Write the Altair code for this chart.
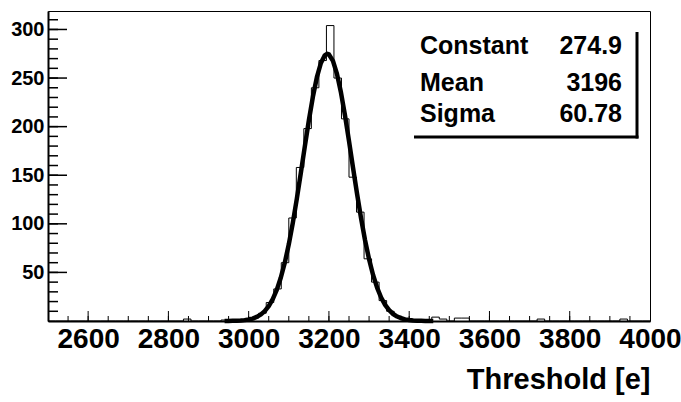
import altair as alt
import pandas as pd

# ---------------- data ----------------
# histogram: 80 bins between 2500 and 4000, only the non-empty bins are listed
hist_lo, hist_hi, hist_nbins = 2500, 4000, 80
hist_bin_index = [18, 23, 24, 25, 26, 27, 28, 29, 30, 31, 32, 33, 34, 35, 36, 37,
                  38, 39, 40, 41, 42, 43, 44, 45, 46, 47, 48, 49, 50, 51, 52, 54, 55, 65, 76]
hist_counts = [2, 1, 1, 1, 2, 3, 8, 19, 33, 60, 106, 158, 198, 240, 268, 304,
               250, 208, 148, 112, 64, 40, 21, 10, 5, 2, 1, 1, 1, 4, 2, 3, 3, 2, 2]

# gaussian fit curve
fit_x = [2940, 2950, 2960, 2970, 2980, 2990, 3000, 3010, 3020, 3030, 3040, 3050, 3060,
         3070, 3080, 3090, 3100, 3110, 3120, 3130, 3140, 3150, 3160, 3170, 3180, 3190,
         3196, 3200, 3210, 3220, 3230, 3240, 3250, 3260, 3270, 3280, 3290, 3300, 3310,
         3320, 3330, 3340, 3350, 3360, 3370, 3380, 3390, 3400, 3410, 3420, 3430, 3440,
         3450, 3460]
fit_y = [0.04, 0.08, 0.15, 0.27, 0.5, 0.9, 1.5, 2.5, 4.2, 6.6, 10.2, 15.4, 22.5,
         32.0, 44.5, 60.0, 78.9, 101.0, 125.8, 152.4, 179.8, 206.4, 230.7, 250.9, 265.5, 273.6,
         274.9, 274.3, 267.7, 254.3, 235.1, 211.5, 185.2, 157.9, 131.0, 105.9, 83.1, 63.6, 47.4,
         34.3, 24.2, 16.6, 11.1, 7.2, 4.6, 2.8, 1.7, 1.0, 0.56, 0.31, 0.17, 0.09,
         0.05, 0.03]

stats_names = ["Constant", "Mean", "Sigma"]
stats_values = ["274.9", "3196", "60.78"]

x_label_values = [2600, 2800, 3000, 3200, 3400, 3600, 3800, 4000]
y_label_values = [50, 100, 150, 200, 250, 300]
x_minor_ticks = [v for v in range(2550, 4000, 50)]
x_major_ticks = [2600, 2800, 3000, 3200, 3400, 3600, 3800]
y_minor_ticks = [v for v in range(10, 320, 10)]
y_major_ticks = [50, 100, 150, 200, 250, 300]

x_domain = [2500, 4000]
y_domain = [0, 319]
x_title = "Threshold [e]"

# ---------------- layout ----------------
W, H = 602, 310
FONT = "Liberation Sans, Arial, Helvetica, sans-serif"

# build step table
width_bin = (hist_hi - hist_lo) / hist_nbins
counts = [0] * hist_nbins
for i, c in zip(hist_bin_index, hist_counts):
    counts[i] = c
step_rows = [{"x": hist_lo + k * width_bin, "n": counts[k]} for k in range(hist_nbins)]
step_rows.append({"x": hist_hi, "n": counts[-1]})
hist_df = pd.DataFrame(step_rows)
fit_df = pd.DataFrame({"x": fit_x, "y": fit_y})

xs = alt.Scale(domain=x_domain, nice=False, zero=False)
ys = alt.Scale(domain=y_domain, nice=False, zero=True)

x_axis = alt.Axis(values=x_label_values, format="d", ticks=False, grid=False,
                  domainWidth=2, domainColor="black", labelFont=FONT, labelFontSize=28,
                  labelFontWeight="bold", labelColor="black", labelFlush=False,
                  labelOverlap=False, labelBound=False, labelPadding=4,
                  title=x_title, titleFont=FONT, titleFontSize=29, titleFontWeight="bold",
                  titleColor="black", titleAnchor="end", titleAlign="right", titlePadding=12)
y_axis = alt.Axis(values=y_label_values, format="d", ticks=False, grid=False,
                  domainWidth=2, domainColor="black", labelFont=FONT, labelFontSize=20,
                  labelFontWeight="bold", labelColor="black", labelFlush=False,
                  labelOverlap=False, labelPadding=4, title=None)

hist = alt.Chart(hist_df).mark_line(interpolate="step-after", color="black",
                                    strokeWidth=1).encode(
    x=alt.X("x:Q", scale=xs, axis=x_axis),
    y=alt.Y("n:Q", scale=ys, axis=y_axis),
)

fit = alt.Chart(fit_df).mark_line(color="black", strokeWidth=4.5,
                                  strokeJoin="round").encode(
    x=alt.X("x:Q", scale=xs),
    y=alt.Y("y:Q", scale=ys),
)

def xticks(vals, length, sw):
    return alt.Chart(pd.DataFrame({"t": vals})).mark_rule(color="black", strokeWidth=sw).encode(
        x=alt.X("t:Q", scale=xs), y=alt.value(H), y2=alt.value(H - length))

def yticks(vals, length, sw):
    return alt.Chart(pd.DataFrame({"t": vals})).mark_rule(color="black", strokeWidth=sw).encode(
        y=alt.Y("t:Q", scale=ys), x=alt.value(0), x2=alt.value(length))

layers = [hist, fit,
          xticks(x_minor_ticks, 5, 1), xticks(x_major_ticks, 10, 1),
          yticks(y_minor_ticks, 10, 1.5), yticks(y_major_ticks, 19, 1.5)]

# stats box
row_baselines = [43, 80, 111]
box_left, box_text_left, box_text_right, box_right = 366, 372, 574, 589
box_top, box_bottom = 21, 126
for name, val, yb in zip(stats_names, stats_values, row_baselines):
    d = pd.DataFrame({"name": [name], "val": [val]})
    layers.append(alt.Chart(d).mark_text(font=FONT, fontSize=25, fontWeight="bold",
                                         align="left", baseline="alphabetic", color="black").encode(
        x=alt.value(box_text_left), y=alt.value(yb), text="name:N"))
    layers.append(alt.Chart(d).mark_text(font=FONT, fontSize=25, fontWeight="bold",
                                         align="right", baseline="alphabetic", color="black").encode(
        x=alt.value(box_text_right), y=alt.value(yb), text="val:N"))

box_df = pd.DataFrame({"k": [0]})
layers.append(alt.Chart(box_df).mark_rule(color="black", strokeWidth=3).encode(
    x=alt.value(box_right), y=alt.value(box_top), y2=alt.value(box_bottom + 1.5)))
layers.append(alt.Chart(box_df).mark_rule(color="black", strokeWidth=3).encode(
    x=alt.value(box_left), x2=alt.value(box_right + 1.5), y=alt.value(box_bottom)))

chart = alt.layer(*layers).properties(
    width=W, height=H,
    autosize=alt.AutoSizeParams(type="none"),
    padding={"left": 48, "top": 11, "right": 31, "bottom": 81},
    background="white",
).configure_view(stroke="black", strokeWidth=1)

chart.save("out.html", embed_options={"renderer": "svg", "actions": False})
